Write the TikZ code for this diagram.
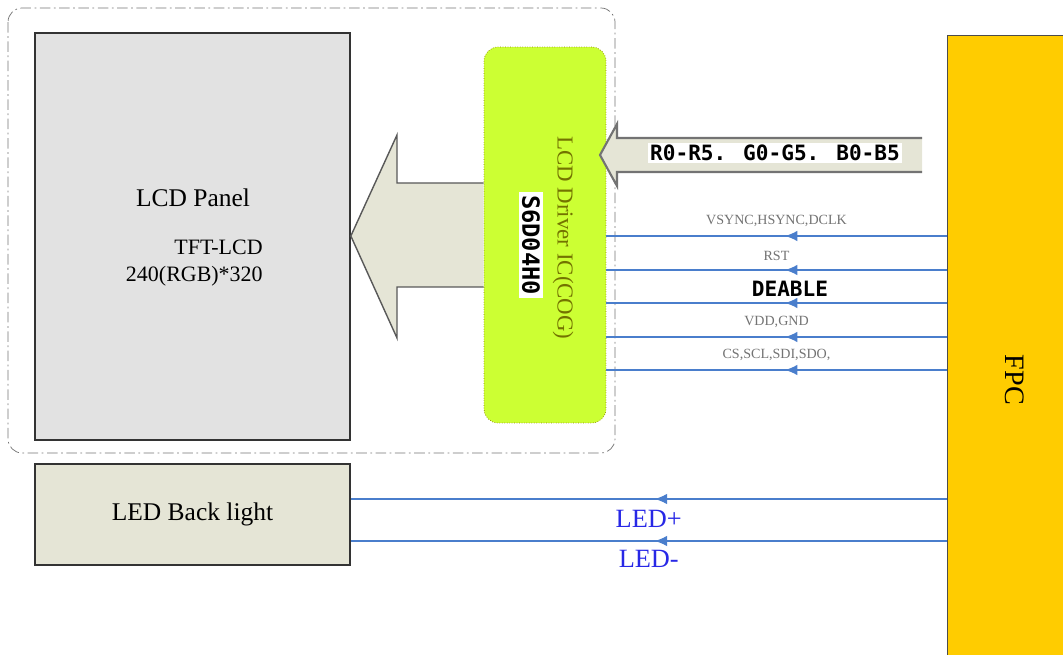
\documentclass[tikz,border=0pt]{standalone}
\usepackage{fontspec}
\setmainfont{Liberation Serif}
\newfontfamily\codefont{DejaVu Sans Mono}
\usetikzlibrary{positioning, calc, arrows.meta, decorations.markings}
\definecolor{panelgray}{RGB}{226,226,226}
\definecolor{beige}{RGB}{229,229,214}
\definecolor{chiplime}{RGB}{204,255,51}
\definecolor{fpcyellow}{RGB}{255,204,0}
\definecolor{sigblue}{RGB}{74,126,204}
\definecolor{ledblue}{RGB}{40,40,230}
\definecolor{olivetext}{RGB}{115,115,0}

\begin{document}
\begin{tikzpicture}[x=0.02cm, y=-0.02cm,
  blk/.style={draw=black!80, line width=1pt, minimum width=6.3cm, inner sep=0pt},
  sig/.style={sigblue, line width=0.85pt, postaction={decorate},
    decoration={markings, mark=at position #1 with {\arrow{Latex[length=7pt,width=6pt]}}}},
  sig/.default=0.475,
  siglab/.style={font=\fontsize{8}{9}\selectfont, text=black!55, inner sep=0pt, above=5pt},
  ledlab/.style={font=\fontsize{15}{16}\selectfont, text=ledblue, inner sep=0pt},
  boldcode/.style={font=\codefont\bfseries\fontsize{12}{14}\selectfont, text=black}
]
  \useasboundingbox (0,0) rectangle (1063,655);
  \clip (0,0) rectangle (1063,655);

  % module outline
  \draw[black!55, rounded corners=8pt, dash pattern=on 6pt off 2pt on 1pt off 2pt] (8,8) rectangle (615,453);

  \node[blk, fill=panelgray, minimum height=8.14cm] (panel) at (192.5,236.5) {};
  \node[font=\fontsize{14.5}{16}\selectfont] (paneltitle) at (193,198) {LCD Panel};
  \node[align=right, anchor=east, inner sep=0pt, font=\fontsize{12.5}{15.3}\selectfont] (panelres) at (263,263) {TFT-LCD\\240(RGB)*320};

  \node[blk, fill=beige, minimum height=2.02cm, font=\fontsize{14.5}{16}\selectfont] (backlight) at (192.5,514.5) {LED Back light};

  \node[draw=olive, densely dotted, fill=chiplime, rounded corners=8pt, minimum width=2.44cm, minimum height=7.52cm] (driver) at (545,235) {};
  \node[rotate=-90, text=olivetext, font=\fontsize{13}{14}\selectfont] (drivername) at (563,238) {LCD Driver IC(COG)};
  \node[rotate=-90, fill=white, inner sep=2pt, font=\codefont\bfseries\fontsize{13.5}{15}\selectfont] (chipid) at (531,245) {S6D04H0};

  \node[draw=black!70, fill=fpcyellow, minimum width=2.46cm, minimum height=12.54cm] (fpc) at (1008.5,348.5) {};
  \node[rotate=-90, font=\fontsize{16}{18}\selectfont] (fpclabel) at (1015,380) {FPC};

  % Arrows
  \draw[black!65, fill=beige, line width=0.8pt] (driver.west |- 0,183) -- (397,183) -- (397,135) -- (panel.east |- 0,236)
    -- (397,338) -- (397,287) -- (driver.west |- 0,287);
  \draw[black!55, fill=beige, line width=1.2pt] (922,138) -- (617,138) -- (617,124) -- (600,155) -- (617,186) -- (617,172) -- (922,172);
  \node[boldcode, fill=white, inner sep=1pt] (rgbbus) at (775,153) {R0-R5. G0-G5. B0-B5};

  \foreach \yy/\lab in {236/{VSYNC,HSYNC,DCLK}, 270/RST, 337/{VDD,GND}, 370/{CS,SCL,SDI,SDO,}}
    \draw[sig] (fpc.west |- 0,\yy) -- (driver.east |- 0,\yy) node[midway, siglab] {\lab};
  \draw[sig] (fpc.west |- 0,303) -- (driver.east |- 0,303) node[midway, above=3pt, xshift=0.27cm, inner sep=0pt, boldcode] {DEABLE};

  \draw[sig=0.49] (fpc.west |- 0,499) -- (backlight.east |- 0,499) node[midway, below=6pt, ledlab] {LED+};
  \draw[sig=0.49] (fpc.west |- 0,541) -- (backlight.east |- 0,541) node[midway, below=5pt, ledlab] {LED-};
\end{tikzpicture}
\end{document}
